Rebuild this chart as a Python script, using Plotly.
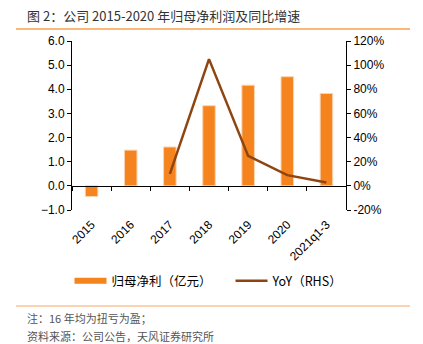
import plotly.graph_objects as go

categories = ["2015", "2016", "2017", "2018", "2019", "2020", "2021q1-3"]
profit = [-0.44, 1.48, 1.61, 3.32, 4.17, 4.52, 3.83]
yoy = [None, None, 9.9, 105.0, 24.8, 8.9, 2.8]
left_ticks = [-1, 0, 1, 2, 3, 4, 5, 6]
right_ticks = [-20, 0, 20, 40, 60, 80, 100, 120]
right_labels = ["-20%", "0%", "20%", "40%", "60%", "80%", "100%", "120%"]

W, H = 423, 344
L, R, T, B = 72, 77, 41, 134
pw, ph = W - L - R, H - T - B

def px(x):
    return (x - L) / pw

def py(y):
    return (H - B - y) / ph

FONT = "Liberation Sans, Arial, sans-serif"
CJK = "Noto Sans CJK SC"
BAR = "#F5841F"
LINE = "#8E4510"
NB = "\u00a0"

fig = go.Figure()
fig.add_trace(go.Bar(
    x=categories, y=profit, name="归母净利（亿元）", width=0.32,
    marker=dict(color=BAR, line=dict(color="#FCD3B0", width=1)),
    showlegend=False, yaxis="y"))
fig.add_trace(go.Scatter(
    x=[None], y=[None], mode="lines", name="归母净利（亿元）" + NB * 5,
    line=dict(color=BAR, width=6), yaxis="y"))
fig.add_trace(go.Scatter(
    x=categories, y=yoy, mode="lines", name="YoY（RHS）",
    line=dict(color=LINE, width=2.5), yaxis="y2", connectgaps=False))

fig.update_layout(
    width=W, height=H, margin=dict(l=L, r=R, t=T, b=B, pad=0),
    paper_bgcolor="white", plot_bgcolor="white",
    font=dict(family=FONT, size=12, color="#000"),
    xaxis=dict(
        type="category", range=[-0.5, 6.5], showgrid=False,
        showline=True, linecolor="#000", linewidth=1,
        anchor="free", position=1 / 7,
        ticks="outside", ticklen=4, tickcolor="#000", tickson="boundaries",
        tickangle=-45, ticklabelstandoff=26,
        tickfont=dict(family=FONT, size=12, color="#000")),
    yaxis=dict(
        range=[-1, 6], tickvals=left_ticks, tickformat=".1f",
        showgrid=False, zeroline=False, showline=True, linecolor="#000",
        linewidth=1, ticks="outside", ticklen=4, tickcolor="#000",
        tickfont=dict(family=FONT, size=12, color="#000")),
    yaxis2=dict(
        range=[-20, 120], tickmode="array", tickvals=right_ticks,
        ticktext=right_labels,
        overlaying="y", side="right", showgrid=False, zeroline=False,
        showline=True, linecolor="#000", linewidth=1, ticks="outside",
        ticklen=4, tickcolor="#000",
        tickfont=dict(family=FONT, size=12, color="#000")),
    legend=dict(
        orientation="h", x=0.5, xanchor="center", y=py(281), yanchor="middle",
        font=dict(family=CJK, size=12.5, color="#000"), itemwidth=32,
        bgcolor="rgba(0,0,0,0)", traceorder="normal"),
    bargap=0.68,
)

fig.add_annotation(
    text="图 2：公司 2015-2020 年归母净利润及同比增速",
    xref="paper", yref="paper", x=px(25), y=py(16),
    xanchor="left", yanchor="middle", showarrow=False,
    font=dict(family=CJK, size=13, color="#333"))
fig.add_annotation(
    text="注：16 年均为扭亏为盈；",
    xref="paper", yref="paper", x=px(25), y=py(318),
    xanchor="left", yanchor="middle", showarrow=False,
    font=dict(family=CJK, size=11, color="#555"))
fig.add_annotation(
    text="资料来源：公司公告，天风证券研究所",
    xref="paper", yref="paper", x=px(25), y=py(336),
    xanchor="left", yanchor="middle", showarrow=False,
    font=dict(family=CJK, size=11, color="#555"))

fig.add_shape(type="line", xref="paper", yref="paper",
              x0=px(16), x1=px(410), y0=py(29), y1=py(29),
              line=dict(color="#F7A14A", width=1.5))
fig.add_shape(type="line", xref="paper", yref="paper",
              x0=px(16), x1=px(410), y0=py(306), y1=py(306),
              line=dict(color="#F8C59A", width=1.5))

fig.write_html("out.html")
